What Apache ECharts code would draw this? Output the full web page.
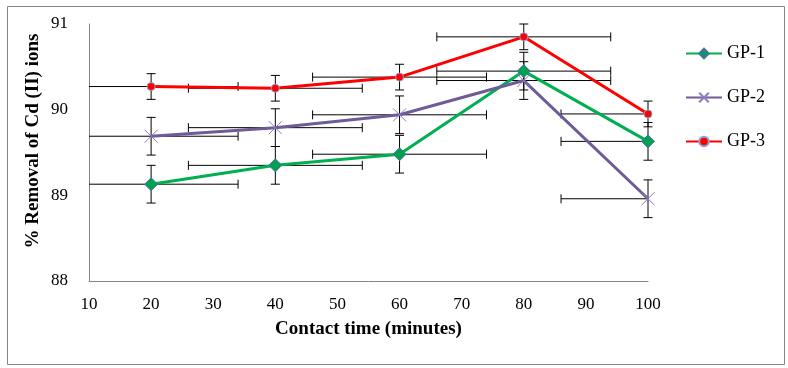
<!DOCTYPE html>
<html>
<head>
<meta charset="utf-8">
<script src="https://cdn.jsdelivr.net/npm/echarts@6/dist/echarts.min.js"></script>
<style>
  html, body { margin: 0; padding: 0; background: #fff; }
  #main { width: 788px; height: 368px; }
</style>
</head>
<body>
<div id="main"></div>
<script>
// contact time (minutes)
var times = [20, 40, 60, 80, 100];
var xTicks = { min: 10, max: 100, step: 10 };
var yTicks = { min: 88, max: 91, step: 1 };

// % removal of Cd(II)
var gp1 = [89.13, 89.35, 89.48, 90.45, 89.63];
var gp2 = [89.69, 89.79, 89.94, 90.34, 88.96];
var gp3 = [90.27, 90.25, 90.38, 90.85, 89.95];

// error bar sizes
var gp1YErr = [0.22, 0.22, 0.22, 0.22, 0.22];
var gp2YErr = [0.22, 0.22, 0.22, 0.22, 0.22];
var gp3YErr = [0.15, 0.15, 0.15, 0.15, 0.15];
var xErr = [14, 14, 14, 14, 14];

var names = ['GP-1', 'GP-2', 'GP-3'];

var font = "'Liberation Serif', 'Times New Roman', serif";

function pairs(ys) {
  var d = [];
  for (var i = 0; i < times.length; i++) d.push([times[i], ys[i]]);
  return d;
}
function errData(ys, ey) {
  var d = [];
  for (var i = 0; i < times.length; i++) d.push([times[i], ys[i], ey[i], xErr[i]]);
  return d;
}

// draws x and y error bars, clipped to the axis range
function renderErr(params, api) {
  var x = api.value(0), y = api.value(1), ey = api.value(2), ex = api.value(3);
  var cap = 4.5;
  var kids = [];
  var st = { stroke: '#000', lineWidth: 1 };
  function seg(a, b) {
    kids.push({ type: 'line', shape: { x1: a[0], y1: a[1], x2: b[0], y2: b[1] }, style: st });
  }
  // vertical
  var top = api.coord([x, Math.min(y + ey, yTicks.max)]);
  var bot = api.coord([x, Math.max(y - ey, yTicks.min)]);
  seg(top, bot);
  seg([top[0] - cap, top[1]], [top[0] + cap, top[1]]);
  seg([bot[0] - cap, bot[1]], [bot[0] + cap, bot[1]]);
  // horizontal
  var lx = x - ex, rx = x + ex;
  var l = api.coord([Math.max(lx, xTicks.min), y]);
  var r = api.coord([Math.min(rx, xTicks.max), y]);
  seg(l, r);
  if (lx >= xTicks.min) seg([l[0], l[1] - cap], [l[0], l[1] + cap]);
  if (rx <= xTicks.max) seg([r[0], r[1] - cap], [r[0], r[1] + cap]);
  return { type: 'group', children: kids };
}

var chart = echarts.init(document.getElementById('main'));

var option = {
  animation: false,
  backgroundColor: '#fff',
  textStyle: { fontFamily: font, color: '#000' },
  grid: { left: 89, right: 140, top: 24, bottom: 87 },
  legend: {
    data: names,
    orient: 'vertical',
    left: 680,
    top: 38,
    itemWidth: 36,
    itemHeight: 12,
    itemGap: 23,
    textStyle: { fontFamily: font, fontSize: 18, color: '#000', lineHeight: 21 }
  },
  graphic: [
    {
      type: 'rect', left: 5, top: 4, silent: true,
      shape: { width: 777, height: 358 },
      style: { fill: 'none', stroke: '#868686', lineWidth: 1 }
    },
    {
      type: 'text', x: 33, y: 141, rotation: Math.PI / 2,
      style: {
        text: '% Removal of Cd (II) ions', fontFamily: font, fontSize: 19,
        fontWeight: 'bold', fill: '#000', align: 'center', verticalAlign: 'middle'
      }
    }
  ],
  xAxis: {
    type: 'value',
    min: xTicks.min, max: xTicks.max, interval: xTicks.step,
    name: 'Contact time (minutes)',
    nameLocation: 'middle',
    nameGap: 39,
    nameTextStyle: { fontFamily: font, fontSize: 19, fontWeight: 'bold', color: '#000' },
    axisLine: { lineStyle: { color: '#868686' } },
    axisTick: { show: false },
    splitLine: { show: false },
    axisLabel: { fontFamily: font, fontSize: 17, color: '#000', margin: 15 }
  },
  yAxis: {
    type: 'value',
    min: yTicks.min, max: yTicks.max, interval: yTicks.step,
    axisLine: { show: true, lineStyle: { color: '#868686' } },
    axisTick: { show: false },
    splitLine: { show: false },
    axisLabel: { fontFamily: font, fontSize: 17, color: '#000', margin: 21 }
  },
  series: [
    { type: 'custom', name: 'err1', data: errData(gp1, gp1YErr), renderItem: renderErr, z: 1, encode: { x: 0, y: 1 } },
    { type: 'custom', name: 'err2', data: errData(gp2, gp2YErr), renderItem: renderErr, z: 1, encode: { x: 0, y: 1 } },
    { type: 'custom', name: 'err3', data: errData(gp3, gp3YErr), renderItem: renderErr, z: 1, encode: { x: 0, y: 1 } },
    {
      name: 'GP-1', type: 'line', data: pairs(gp1), z: 3,
      symbol: 'diamond', symbolSize: 13,
      lineStyle: { color: '#00B050', width: 3 },
      itemStyle: { color: '#00A050', borderColor: '#4A6FA5', borderWidth: 1 }
    },
    {
      name: 'GP-2', type: 'line', data: pairs(gp2), z: 3,
      symbol: 'path://M0,0L10,10M10,0L0,10', symbolSize: 13,
      lineStyle: { color: '#6F5B97', width: 3 },
      itemStyle: { color: '#6F5B97', borderColor: '#8D7CBF', borderWidth: 1 }
    },
    {
      name: 'GP-3', type: 'line', data: pairs(gp3), z: 3,
      symbol: 'circle', symbolSize: 8,
      lineStyle: { color: '#FF0000', width: 3 },
      itemStyle: { color: '#FF0000', borderColor: '#8CA0D0', borderWidth: 1 }
    }
  ]
};

chart.setOption(option);
</script>
</body>
</html>
